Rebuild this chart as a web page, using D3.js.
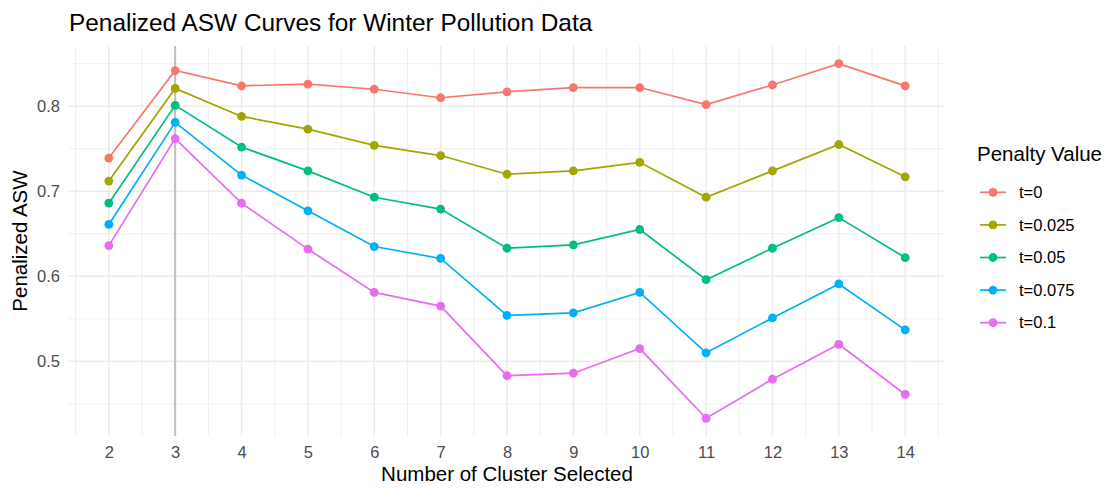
<!DOCTYPE html>
<html>
<head>
<meta charset="utf-8">
<script src="https://cdn.jsdelivr.net/npm/d3@7"></script>
<style>
  html, body { margin: 0; padding: 0; background: #ffffff; }
  svg { display: block; font-family: "Liberation Sans", Arial, Helvetica, sans-serif; }
</style>
</head>
<body>
<svg id="chart" width="1107" height="489"></svg>
<script>
// Number of clusters on the x axis
const clusters = [2, 3, 4, 5, 6, 7, 8, 9, 10, 11, 12, 13, 14];

// Penalty levels and their colours (ggplot default hue palette)
const penalties = ["t=0", "t=0.025", "t=0.05", "t=0.075", "t=0.1"];
const colors = ["#F8766D", "#A3A500", "#00BF7D", "#00B0F6", "#E76BF3"];

// Penalized ASW per penalty level, one value per cluster count
const aswT0     = [0.739, 0.842, 0.824, 0.826, 0.820, 0.810, 0.817, 0.822, 0.822, 0.802, 0.825, 0.850, 0.824];
const aswT0025  = [0.712, 0.821, 0.788, 0.773, 0.754, 0.742, 0.720, 0.724, 0.734, 0.693, 0.724, 0.755, 0.717];
const aswT005   = [0.686, 0.801, 0.752, 0.724, 0.693, 0.679, 0.633, 0.637, 0.655, 0.596, 0.633, 0.669, 0.622];
const aswT0075  = [0.661, 0.781, 0.719, 0.677, 0.635, 0.621, 0.554, 0.557, 0.581, 0.510, 0.551, 0.591, 0.537];
const aswT01    = [0.636, 0.762, 0.686, 0.632, 0.581, 0.565, 0.483, 0.486, 0.515, 0.433, 0.479, 0.520, 0.461];

const yTicks = [0.5, 0.6, 0.7, 0.8];
const selectedK = 3;

const seriesValues = [aswT0, aswT0025, aswT005, aswT0075, aswT01];
const series = penalties.map((name, i) => ({
  name,
  color: colors[i],
  points: clusters.map((k, j) => ({ k, v: seriesValues[i][j] }))
}));

const svg = d3.select("#chart");
const panel = { left: 69, top: 46, width: 876, height: 390 };

// Scales with ggplot-style 5% expansion
function expand(ext) {
  const pad = (ext[1] - ext[0]) * 0.05;
  return [ext[0] - pad, ext[1] + pad];
}
const x = d3.scaleLinear()
  .domain(expand(d3.extent(clusters)))
  .range([panel.left, panel.left + panel.width]);
const allVals = seriesValues.flat();
const y = d3.scaleLinear()
  .domain(expand(d3.extent(allVals)))
  .range([panel.top + panel.height, panel.top]);

const g = svg.append("g");

// Minor grid lines (midpoints between majors)
const xMinor = d3.range(x.domain()[0], x.domain()[1], 1).map(d => Math.floor(d) + 0.5)
  .filter(d => d > x.domain()[0] && d < x.domain()[1]);
const yMinor = [0.45, 0.55, 0.65, 0.75, 0.85];
g.selectAll(".xminor").data(xMinor).join("line")
  .attr("x1", d => x(d)).attr("x2", d => x(d))
  .attr("y1", panel.top).attr("y2", panel.top + panel.height)
  .attr("stroke", "#ebebeb").attr("stroke-width", 0.8);
g.selectAll(".yminor").data(yMinor).join("line")
  .attr("x1", panel.left).attr("x2", panel.left + panel.width)
  .attr("y1", d => y(d)).attr("y2", d => y(d))
  .attr("stroke", "#ebebeb").attr("stroke-width", 0.8);

// Major grid lines
g.selectAll(".xmajor").data(clusters).join("line")
  .attr("x1", d => x(d)).attr("x2", d => x(d))
  .attr("y1", panel.top).attr("y2", panel.top + panel.height)
  .attr("stroke", "#ebebeb").attr("stroke-width", 1.5);
g.selectAll(".ymajor").data(yTicks).join("line")
  .attr("x1", panel.left).attr("x2", panel.left + panel.width)
  .attr("y1", d => y(d)).attr("y2", d => y(d))
  .attr("stroke", "#ebebeb").attr("stroke-width", 1.5);

// Axes (tick labels only, ggplot minimal style)
const xAxis = d3.axisBottom(x).tickValues(clusters).tickSize(0).tickPadding(10).tickFormat(d3.format("d"));
const yAxis = d3.axisLeft(y).tickValues(yTicks).tickSize(0).tickPadding(9).tickFormat(d3.format(".1f"));

const gx = svg.append("g").attr("transform", `translate(0,${panel.top + panel.height})`).call(xAxis);
const gy = svg.append("g").attr("transform", `translate(${panel.left},0)`).call(yAxis);
[gx, gy].forEach(a => {
  a.select(".domain").remove();
  a.selectAll("text").attr("fill", "#4d4d4d").style("font-size", "16.5px")
    .style("font-family", "'Liberation Sans', Arial, sans-serif");
});

// Vertical reference line at the chosen cluster count
svg.append("line")
  .attr("x1", x(selectedK)).attr("x2", x(selectedK))
  .attr("y1", panel.top).attr("y2", panel.top + panel.height)
  .attr("stroke", "#bebebe").attr("stroke-width", 2);

// Lines and points
const line = d3.line().x(d => x(d.k)).y(d => y(d.v));
const sg = svg.append("g").selectAll("g").data(series).join("g");
sg.append("path")
  .attr("d", d => line(d.points))
  .attr("fill", "none")
  .attr("stroke", d => d.color)
  .attr("stroke-width", 1.7);
sg.selectAll("circle").data(d => d.points.map(p => ({ ...p, color: d.color }))).join("circle")
  .attr("cx", d => x(d.k)).attr("cy", d => y(d.v))
  .attr("r", 4.4)
  .attr("fill", d => d.color);

// Titles
svg.append("text")
  .attr("x", panel.left).attr("y", 31)
  .attr("fill", "#000").style("font-size", "24.4px")
  .text("Penalized ASW Curves for Winter Pollution Data");

svg.append("text")
  .attr("x", panel.left + panel.width / 2).attr("y", 481)
  .attr("text-anchor", "middle").attr("fill", "#000").style("font-size", "20.5px")
  .text("Number of Cluster Selected");

svg.append("text")
  .attr("transform", `translate(27,${panel.top + panel.height / 2}) rotate(-90)`)
  .attr("text-anchor", "middle").attr("fill", "#000").style("font-size", "20.5px")
  .text("Penalized ASW");

// Legend
const legend = svg.append("g");
legend.append("text")
  .attr("x", 977).attr("y", 161)
  .attr("fill", "#000").style("font-size", "20.5px")
  .text("Penalty Value");
const items = legend.selectAll(".item").data(series).join("g")
  .attr("transform", (d, i) => `translate(0,${192.3 + i * 32.6})`);
items.append("line")
  .attr("x1", 980).attr("x2", 1006)
  .attr("stroke", d => d.color).attr("stroke-width", 1.7);
items.append("circle")
  .attr("cx", 993).attr("r", 4.4).attr("fill", d => d.color);
items.append("text")
  .attr("x", 1019).attr("dy", "0.35em")
  .attr("fill", "#000").style("font-size", "16.5px")
  .text(d => d.name);
</script>
</body>
</html>
